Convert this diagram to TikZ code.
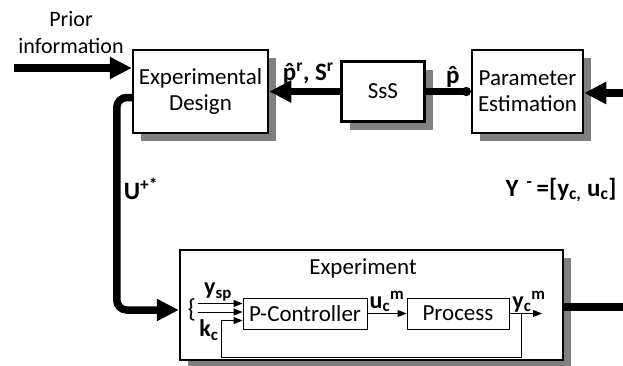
\documentclass[tikz,border=0pt]{standalone}
\usepackage{fontspec}
\setmainfont{Carlito}
\usetikzlibrary{arrows.meta,positioning,shadows,calc}

% bold p with a hat, built from the spacing circumflex
\newcommand{\hatp}{\ooalign{p\cr\hidewidth\char"02C6\hidewidth\cr}}

\begin{document}
\begin{tikzpicture}[
    x=1pt, y=-1pt,
    node distance=40pt,
    font=\fontsize{23}{26}\selectfont,
    bigbox/.style={draw, line width=2.5pt, fill=white, align=center, inner sep=1pt,
        drop shadow={shadow xshift=8pt, shadow yshift=-8pt, fill=gray, opacity=1}},
    smallbox/.style={draw, line width=1pt, fill=white, minimum height=31pt, inner sep=1pt},
    bigline/.style={draw, line width=7.5pt},
    bigarrow/.style={bigline, -{Triangle[length=22pt,width=21pt]}},
    thinarrow/.style={draw, line width=1pt, -{Triangle[length=9pt,width=7pt]}},
    lbl/.style={font=\fontsize{25}{28}\selectfont\bfseries, inner sep=1pt},
    smalllbl/.style={font=\fontsize{24}{26}\selectfont\bfseries, inner sep=1pt}
]
    \useasboundingbox (0,0) rectangle (623,365);

    % Upper row: design, SsS, estimation
    \node[bigbox, minimum width=135pt, minimum height=83pt] (design) at (200.5,91.5) {Experimental\\Design};
    \node[bigbox, minimum width=83pt, minimum height=60pt, right=71pt of design] (sss) {SsS};
    \node[bigbox, minimum width=111pt, minimum height=83pt, right=45pt of sss] (estim) {Parameter\\Estimation};

    % Experiment block with controller loop
    \node[bigbox, minimum width=383pt, minimum height=110pt] (experiment) at (371.5,305) {};
    \node (exptitle) at (363,268) {Experiment};
    \node[smallbox, minimum width=124pt] (ctrl) at (305,313.5) {P-Controller};
    \node[smallbox, minimum width=102pt, right=39pt of ctrl] (proc) {Process};

    % Free ends
    \node[align=center, font=\fontsize{22}{27}\selectfont] (prior) at (71,33) {Prior\\information};
    \coordinate (pin) at (14,68);
    \coordinate (yin) at (623,93);
    \coordinate (yout) at (623,307);
    \coordinate (ym) at (542,313.5);
    \coordinate (tap) at (521,313.5);
    \coordinate (ysp) at (198,303.5);
    \coordinate (kc) at (198,312);
    \coordinate (fb) at (221,357);

    % Labels
    \node[lbl] (ulabel) at (141,189) {U\textsuperscript{+*}};
    \node[lbl] (ylabel) at (561,190) {Y\,\textsuperscript{ -}\,=[y\textsubscript{c,} u\textsubscript{c}]};
    \node[font=\fontsize{26}{28}\selectfont] (brace) at (192,310) {\{};

    % Thick connections
    \path[bigarrow] (pin) -- (pin -| design.west);
    \path[bigarrow] (yin) -- (yin -| estim.east);
    \path[bigline, -{Circle[length=9pt,width=9pt]}] (sss.east) -- node[lbl, above=3pt, pos=0.6] (phat) {\hatp} (estim.west);
    \path[bigarrow] (sss.west) -- node[lbl, above=3pt, pos=0.45] (pr) {\hatp\textsuperscript{r}, S\textsuperscript{r}} (design.east);
    \path[bigarrow, rounded corners=10pt] ([yshift=-6pt]design.west) -- ++(-15,0) |- ([yshift=-5pt]experiment.west);
    \path[bigline] (yout -| experiment.east) -- (yout);

    % Thin connections inside the experiment
    \path[thinarrow] (ysp) -- node[smalllbl, above=1pt, pos=0.45] (yspl) {y\textsubscript{sp}} (ysp -| ctrl.west);
    \path[thinarrow] (kc) -- (kc -| ctrl.west);
    \path[thinarrow] (ctrl) -- node[smalllbl, above=0pt] (ucm) {u\textsubscript{c}\textsuperscript{m}} (proc);
    \path[thinarrow] (proc) -- node[smalllbl, above=0pt, pos=0.6] (ycm) {y\textsubscript{c}\textsuperscript{m}} (ym);
    \path[thinarrow] (tap) |- (fb) |- ([yshift=-7pt]ctrl.west);
    \node[smalllbl] (kcl) at (209,330) {k\textsubscript{c}};
\end{tikzpicture}
\end{document}
